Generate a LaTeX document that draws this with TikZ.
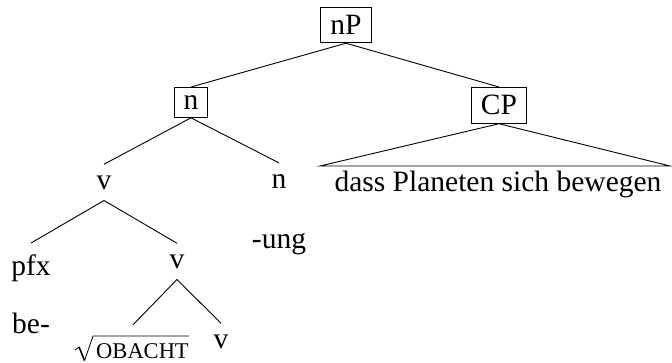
\documentclass[tikz,border=0pt]{standalone}
\usepackage{fontspec}
\setmainfont{Liberation Serif}
\usetikzlibrary{calc}
\begin{document}
\begin{tikzpicture}[x=1pt,y=-1pt,
  every node/.style={font=\fontsize{29.5}{34}\selectfont},
  cat/.style={draw, line width=0.9pt, inner xsep=9.5pt, inner ysep=8pt, anchor=north},
  lbl/.style={inner xsep=2pt, inner ysep=11pt, anchor=base},
  branch/.style={line width=0.9pt}]
\useasboundingbox (0,0) rectangle (672,362);

% boxed category labels
\node[cat] (nP) at (346,7) {nP};
\node[cat] (n1) at (191,87) {n};
\node[cat] (CP) at (499,87) {CP};

% plain labels
\node[lbl] (v1) at (104,189) {v};
\node[lbl] (n2) at (279,188) {n};
\node[lbl] (ung) at (279,248) {-ung};
\node[lbl] (dass) at (498,191) {dass Planeten sich bewegen};
\coordinate (tl) at (320,166);
\coordinate (tr) at (670,166);
\node[lbl] (pfx) at (31,275) {pfx};
\node[lbl] (v2) at (177,268) {v};
\node[lbl] (be) at (31,333) {be-};
% root: room on the left for the radical sign, tall enough to include its bar
\node[lbl, inner xsep=0pt, text height=22pt] (root) at (133,358)
  {\hspace*{19pt}\fontsize{22.5}{26}\selectfont OBACHT};
\node[lbl] (v3) at (221,348) {v};

% radical sign over OBACHT
\draw[line width=0.8pt, line join=miter]
  ($(root.base west)+(-2,-8)$) -- ($(root.base west)+(2,-11)$);
\draw[line width=1.6pt]
  ($(root.base west)+(2,-11)$) -- ($(root.base west)+(7.5,2.5)$);
\draw[line width=0.8pt]
  ($(root.base west)+(7.5,2.5)$) -- ($(root.base west)+(16,-22)$)
  -- ($(root.base east)+(0,-22)$);

% branches
\draw[branch] (nP.south) -- (n1.north);
\draw[branch] (nP.south) -- (CP.north);
\draw[branch] (n1.south) -- (v1.north);
\draw[branch] (n1.south) -- (n2.north);
\draw[branch] (tl) -- (CP.south) -- (tr) -- cycle;
\draw[branch] (v1.south) -- (pfx.north);
\draw[branch] (v1.south) -- (v2.north);
\draw[branch] (v2.south) -- (root.north);
\draw[branch] (v2.south) -- (v3.north);
\end{tikzpicture}
\end{document}
